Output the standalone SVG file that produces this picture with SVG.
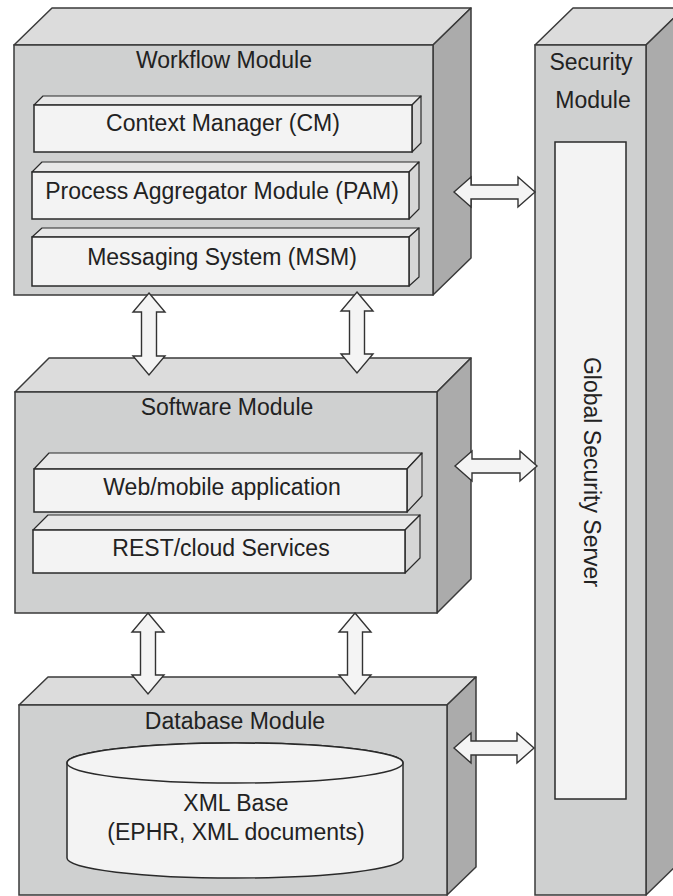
<svg xmlns="http://www.w3.org/2000/svg" width="673" height="896" viewBox="0 0 673 896">
<style>
.front{fill:#cfd0d0;stroke:#3a3a3a;stroke-width:1.5}
.top{fill:#dcdcdc;stroke:#3a3a3a;stroke-width:1.5;stroke-linejoin:round}
.side{fill:#ababab;stroke:#3a3a3a;stroke-width:1.5;stroke-linejoin:round}
.ifront{fill:#f3f3f3;stroke:#2a2a2a;stroke-width:1.5}
.itop{fill:#e8e8e8;stroke:#2a2a2a;stroke-width:1.2;stroke-linejoin:round}
.iside{fill:#d6d6d6;stroke:#2a2a2a;stroke-width:1.2;stroke-linejoin:round}
.arrow{fill:#f4f4f4;stroke:#333;stroke-width:1.4;stroke-linejoin:miter}
text{font-family:"Liberation Sans",Arial,sans-serif;font-size:23px;fill:#222;text-anchor:middle}
</style>
<rect width="673" height="896" fill="#ffffff"/>

<g id="workflow-module">
<polygon class="top" points="14,45 52,8 471,8 433,45"/>
<polygon class="side" points="433,45 471,8 471,258 433,295"/>
<rect class="front" x="14" y="45" width="419" height="250"/>
<text x="224" y="68">Workflow Module</text>
<g id="cm">
<polygon class="itop" points="34,105 43,96 421,96 412,105"/>
<polygon class="iside" points="412,105 421,96 421,143 412,152"/>
<rect class="ifront" x="34" y="105" width="378" height="47"/>
<text x="223" y="131">Context Manager (CM)</text>
</g>
<g id="pam">
<polygon class="itop" points="32,172 42,162 419,162 409,172"/>
<polygon class="iside" points="409,172 419,162 419,209 409,219"/>
<rect class="ifront" x="32" y="172" width="377" height="47"/>
<text x="222" y="199">Process Aggregator Module (PAM)</text>
</g>
<g id="msm">
<polygon class="itop" points="32,237 42,228 419,228 409,237"/>
<polygon class="iside" points="409,237 419,228 419,277 409,286"/>
<rect class="ifront" x="32" y="237" width="377" height="49"/>
<text x="222" y="265">Messaging System (MSM)</text>
</g>
</g>

<g id="software-module">
<polygon class="top" points="15,392 49,358 471,358 437,392"/>
<polygon class="side" points="437,392 471,358 471,579 437,613"/>
<rect class="front" x="15" y="392" width="422" height="221"/>
<text x="227" y="415">Software Module</text>
<g id="web">
<polygon class="itop" points="34,469 49,453 422,453 407,469"/>
<polygon class="iside" points="407,469 422,453 422,496 407,512"/>
<rect class="ifront" x="34" y="469" width="373" height="43"/>
<text x="222" y="495">Web/mobile application</text>
</g>
<g id="rest">
<polygon class="itop" points="33,530 48,515 420,515 405,530"/>
<polygon class="iside" points="405,530 420,515 420,558 405,573"/>
<rect class="ifront" x="33" y="530" width="372" height="43"/>
<text x="221" y="556">REST/cloud Services</text>
</g>
</g>

<g id="database-module">
<polygon class="top" points="19,705 48,677 476,677 447,705"/>
<polygon class="side" points="447,705 476,677 476,867 447,895"/>
<rect class="front" x="19" y="705" width="428" height="190"/>
<text x="235" y="729">Database Module</text>
<g id="xml-base">
<path class="ifront" d="M67,763 L67,858 A168,20 0 0 0 403,858 L403,763 A168,20 0 0 0 67,763 Z"/>
<ellipse class="ifront" cx="235" cy="763" rx="168" ry="20"/>
<text x="236" y="811">XML Base</text>
<text x="236" y="840">(EPHR, XML documents)</text>
</g>
</g>

<g id="security-module">
<polygon class="top" points="535,45 573,8 684,8 646,45"/>
<polygon class="side" points="646,45 684,8 684,858 646,895"/>
<rect class="front" x="535" y="45" width="111" height="850"/>
<text x="591" y="70">Security</text>
<text x="593" y="108">Module</text>
<g id="global-security-server">
<rect class="ifront" x="555" y="142" width="71" height="657"/>
<text transform="translate(592,472) rotate(90)" x="0" y="8">Global Security Server</text>
</g>
</g>

<g id="connectors">
<path class="arrow" d="M454,192 L471,177 L471,185 L518,185 L518,177 L535,192 L518,207 L518,199 L471,199 L471,207 Z"/>
<path class="arrow" d="M455,466 L472,451 L472,459 L520,459 L520,451 L537,466 L520,481 L520,473 L472,473 L472,481 Z"/>
<path class="arrow" d="M454,748 L471,733 L471,741 L517,741 L517,733 L534,748 L517,763 L517,755 L471,755 L471,763 Z"/>
<path class="arrow" d="M149,293 L165,312 L156.5,312 L156.5,356 L165,356 L149,375 L133,356 L141.5,356 L141.5,312 L133,312 Z"/>
<path class="arrow" d="M357,292 L373,311 L364.5,311 L364.5,354 L373,354 L357,373 L341,354 L349.5,354 L349.5,311 L341,311 Z"/>
<path class="arrow" d="M148,613 L164,632 L155.5,632 L155.5,675 L164,675 L148,694 L132,675 L140.5,675 L140.5,632 L132,632 Z"/>
<path class="arrow" d="M355,613 L371,632 L362.5,632 L362.5,675 L371,675 L355,694 L339,675 L347.5,675 L347.5,632 L339,632 Z"/>
</g>
</svg>
